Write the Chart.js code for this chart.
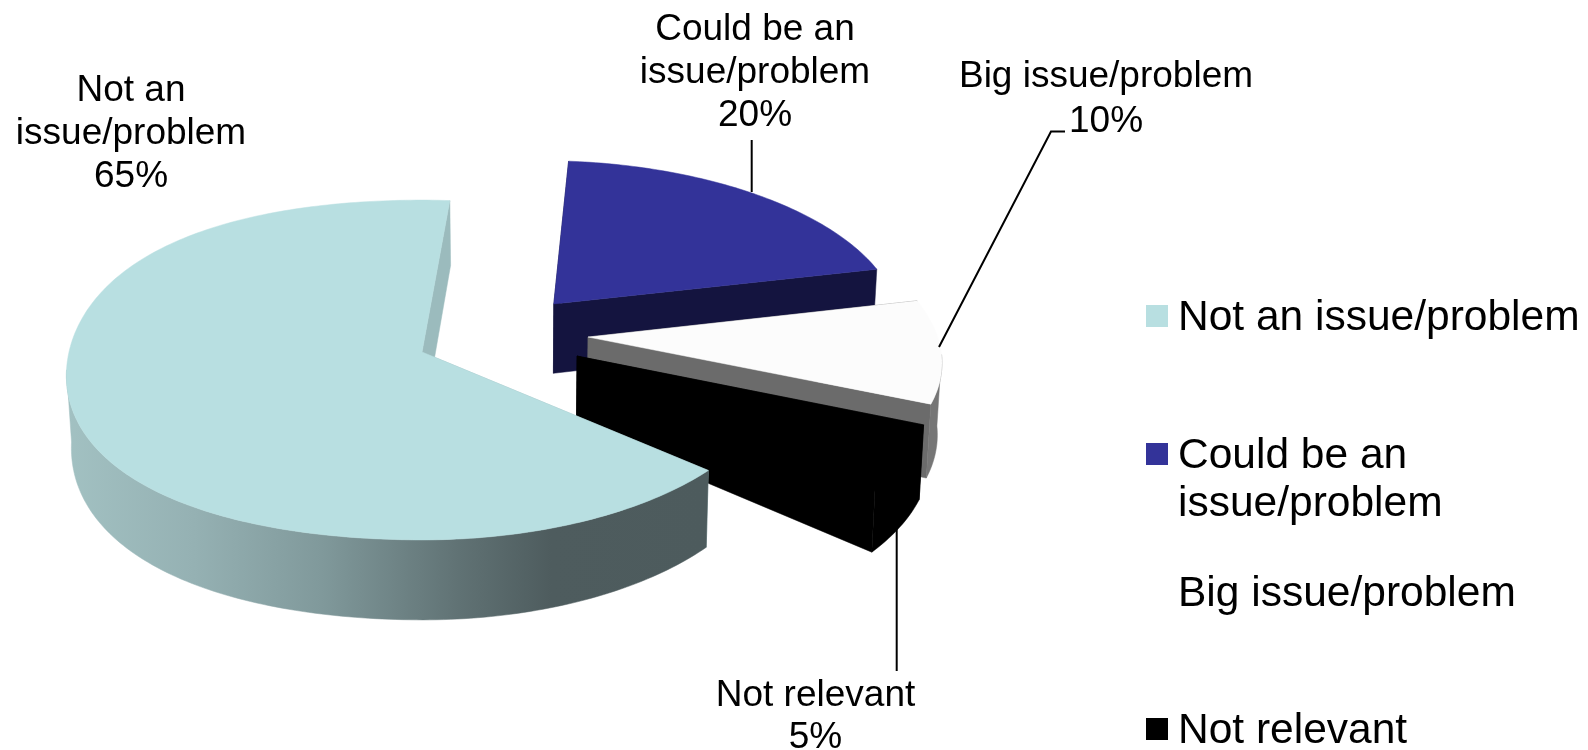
<!DOCTYPE html>
<html>
<head>
<meta charset="utf-8">
<title>Issue / problem pie</title>
<script src="https://cdn.jsdelivr.net/npm/chart.js@4"></script>
<style>
  html, body { margin: 0; padding: 0; background: #fff; }
  canvas { display: block; }
</style>
</head>
<body>
<canvas id="pieCanvas" width="1588" height="750"></canvas>
<script>
const categories = ["Not an issue/problem", "Could be an issue/problem", "Big issue/problem", "Not relevant"];
const values = [65, 20, 10, 5];
const sliceColors = ["#b8dfe1", "#333399", "#fcfcfc", "#000000"];
const cutColors = ["#9bbbbd", "#14143f", "#6b6b6b", "#000000"];
const rimColors = [null, "#14143f", "#767676", "#000000"];
const swatchColors = ["#b8dfe1", "#333399", "#ffffff", "#000000"];

// how far each slice is pulled out of the pie, in radius units
const explodeX = [0, 0.385, 0.475, 0.438];
const explodeY = [0, -0.295, -0.09, 0.024];

// back to front
const paintOrder = [1, 2, 3, 0];

const labelLines = [["Not an", "issue/problem"], ["Could be an", "issue/problem"], ["Big issue/problem"], ["Not relevant"]];
const labelX = [131, 755, 1106, 815.5];
const labelBaseY = [101, 40, 87, 706];
const labelGap = [43, 43, 44.5, 42];

const legendLines = [["Not an issue/problem"], ["Could be an", "issue/problem"], ["Big issue/problem"], ["Not relevant"]];
const legendBaseY = [330, 468, 606, 743];

const leaders = [
  [],
  [[751.7, 140], [751.7, 192]],
  [[1065, 131.5], [1051, 131.5], [939, 347]],
  [[896.7, 523], [896.7, 671]]
];

// the tilted view: a disc seen in perspective, hinged on the pie centre
const view = { cx: 422, cy: 352, rx: 353, ry: 168, tilt: 0.106, depth: 71.5, vanishX: 520, sink: 0.011, bulge: 0.03 };

function project(u, v) {
  const w = 1 - view.tilt * v;
  return { x: view.cx + view.rx * u / w, y: view.cy + view.ry * v / w, w: w };
}

function lower(p) {
  return { x: p.x + (view.vanishX - p.x) * view.sink, y: p.y + view.depth / p.w, w: p.w };
}

// the far-left side of the disc is a little fuller than a true ellipse
function edgeRadius(a) {
  if (Math.cos(a) >= 0) return 1;
  return 1 + view.bulge * Math.pow(Math.sin(2 * a), 2);
}

function tracePath(ctx, pts) {
  ctx.beginPath();
  pts.forEach((p, i) => (i ? ctx.lineTo(p.x, p.y) : ctx.moveTo(p.x, p.y)));
  ctx.closePath();
}

function fillPoly(ctx, pts, color) {
  tracePath(ctx, pts);
  ctx.fillStyle = color;
  ctx.fill();
  // hairline stroke hides the seams between faces
  ctx.strokeStyle = color;
  ctx.lineWidth = 0.5;
  ctx.stroke();
}

function rimGradient(ctx) {
  const g = ctx.createLinearGradient(66, 0, 705, 0);
  g.addColorStop(0, "#a2c1c2");
  g.addColorStop(0.2, "#95b1b3");
  g.addColorStop(0.4, "#80999b");
  g.addColorStop(0.615, "#607274");
  g.addColorStop(0.76, "#4e5c5e");
  g.addColorStop(1, "#4d5b5d");
  return g;
}

const tiltedPie = {
  id: "tiltedPie",
  beforeDatasetsDraw(chart) {
    const ctx = chart.ctx;
    const arcs = chart.getDatasetMeta(0).data;
    paintOrder.forEach((i) => {
      const start = arcs[i].startAngle;
      const end = arcs[i].endAngle;
      const ox = explodeX[i];
      const oy = explodeY[i];
      const steps = Math.ceil((end - start) * 180 / Math.PI);
      const edge = [];
      const front = [];
      for (let s = 0; s <= steps; s++) {
        const a = start + (end - start) * s / steps;
        const r = edgeRadius(a);
        const p = project(ox + r * Math.cos(a), oy + r * Math.sin(a));
        edge.push(p);
        // only the part of the rim that faces the viewer
        if (Math.sin(a) > 0.1) front.push(p);
      }
      const apex = project(ox, oy);
      const first = edge[0];
      const last = edge[edge.length - 1];
      fillPoly(ctx, [apex, first, lower(first), lower(apex)], cutColors[i]);
      fillPoly(ctx, [apex, last, lower(last), lower(apex)], cutColors[i]);
      if (front.length) {
        const rim = front.concat(front.slice().reverse().map(lower));
        fillPoly(ctx, rim, rimColors[i] || rimGradient(ctx));
      }
      fillPoly(ctx, [apex].concat(edge), sliceColors[i]);
    });
    return false;
  },
  afterDraw(chart) {
    const ctx = chart.ctx;
    ctx.save();

    ctx.strokeStyle = "#000";
    ctx.lineWidth = 2;
    leaders.forEach((line) => {
      if (!line.length) return;
      ctx.beginPath();
      line.forEach((p, i) => (i ? ctx.lineTo(p[0], p[1]) : ctx.moveTo(p[0], p[1])));
      ctx.stroke();
    });

    ctx.fillStyle = "#000";
    ctx.textBaseline = "alphabetic";
    ctx.textAlign = "center";
    ctx.font = '37px "Liberation Sans", Arial, sans-serif';
    labelLines.forEach((lines, i) => {
      const rows = lines.concat(values[i] + "%");
      rows.forEach((row, r) => ctx.fillText(row, labelX[i], labelBaseY[i] + r * labelGap[i]));
    });

    ctx.textAlign = "left";
    ctx.font = '42.5px "Liberation Sans", Arial, sans-serif';
    legendLines.forEach((lines, i) => {
      ctx.fillStyle = swatchColors[i];
      ctx.fillRect(1146, legendBaseY[i] - 25, 22, 22);
      ctx.fillStyle = "#000";
      lines.forEach((row, r) => ctx.fillText(row, 1178, legendBaseY[i] + r * 48));
    });
    ctx.restore();
  }
};

new Chart(document.getElementById("pieCanvas"), {
  type: "pie",
  data: {
    labels: categories,
    datasets: [{ data: values, backgroundColor: sliceColors, borderWidth: 0 }]
  },
  options: {
    responsive: false,
    animation: false,
    rotation: 131,
    plugins: { legend: { display: false }, tooltip: { enabled: false } }
  },
  plugins: [tiltedPie]
});
</script>
</body>
</html>
